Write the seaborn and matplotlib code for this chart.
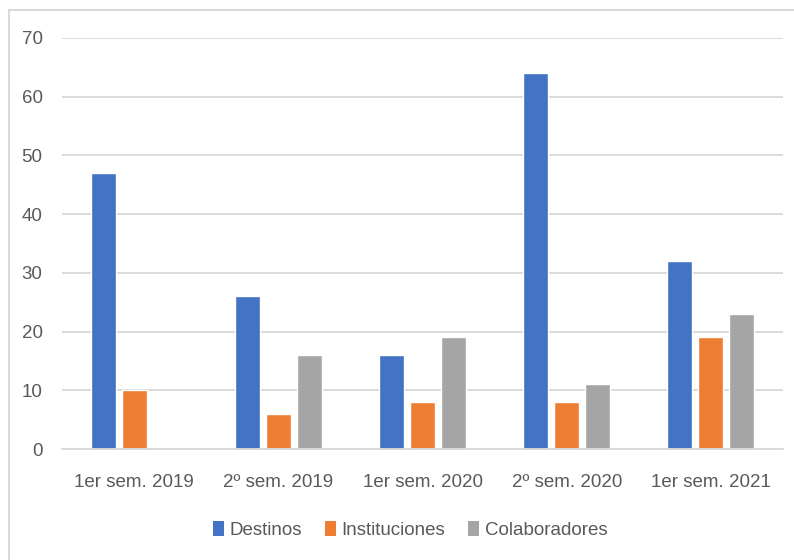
import matplotlib
matplotlib.use("Agg")
import matplotlib.pyplot as plt
import seaborn as sns
import pandas as pd
from matplotlib.patches import Rectangle, Patch

categories = ["1er sem. 2019", "2º sem. 2019", "1er sem. 2020", "2º sem. 2020", "1er sem. 2021"]
series_names = ["Destinos", "Instituciones", "Colaboradores"]
destinos = [47, 26, 16, 64, 32]
instituciones = [10, 6, 8, 8, 19]
colaboradores = [0, 16, 19, 11, 23]
colors = ["#4472C4", "#ED7D31", "#A5A5A5"]
yticks = [0, 10, 20, 30, 40, 50, 60, 70]

rows = []
for name, vals in zip(series_names, [destinos, instituciones, colaboradores]):
    for c, v in zip(categories, vals):
        rows.append({"cat": c, "serie": name, "valor": v})
df = pd.DataFrame(rows)

sns.set_theme(style="white")
plt.rcParams['font.family'] = ['Liberation Sans', 'DejaVu Sans']

fig = plt.figure(figsize=(7.94, 5.6), dpi=100)
ax = fig.add_axes([62/794, 111/560, (783-62)/794, (449-38)/560])

sns.barplot(data=df, x="cat", y="valor", hue="serie", order=categories,
            hue_order=series_names, palette=colors, width=0.645, gap=0.19,
            ax=ax, legend=False, saturation=1)

ax.set_ylim(0, 70)
ax.set_xlim(-0.5, len(categories) - 0.5)
ax.set_yticks(yticks)
ax.yaxis.grid(True, color="#D9D9D9", linewidth=1.3)
ax.set_axisbelow(True)
for s in ["top", "right", "left"]:
    ax.spines[s].set_visible(False)
ax.spines["bottom"].set_color("#D9D9D9")
ax.spines["bottom"].set_linewidth(1.3)
ax.set_xlabel("")
ax.set_ylabel("")
ax.tick_params(axis="both", length=0, labelsize=13.5, labelcolor="#595959")
ax.tick_params(axis="x", pad=18)
ax.tick_params(axis="y", pad=14)

handles = [Patch(facecolor=c, edgecolor="none", label=n) for c, n in zip(colors, series_names)]
fig.legend(handles=handles, loc="center", bbox_to_anchor=(410/794, 1 - 530/560), ncol=3,
           frameon=False, fontsize=13.5, labelcolor="#595959", handlelength=0.6,
           handleheight=0.9, handletextpad=0.3, columnspacing=1.2)

fig.patches.append(Rectangle((9/794, -0.1), 1.2, 1 - 10/560 + 0.1, transform=fig.transFigure,
                             fill=False, edgecolor="#D9D9D9", linewidth=1.5))

fig.savefig("out.png", dpi=100)
